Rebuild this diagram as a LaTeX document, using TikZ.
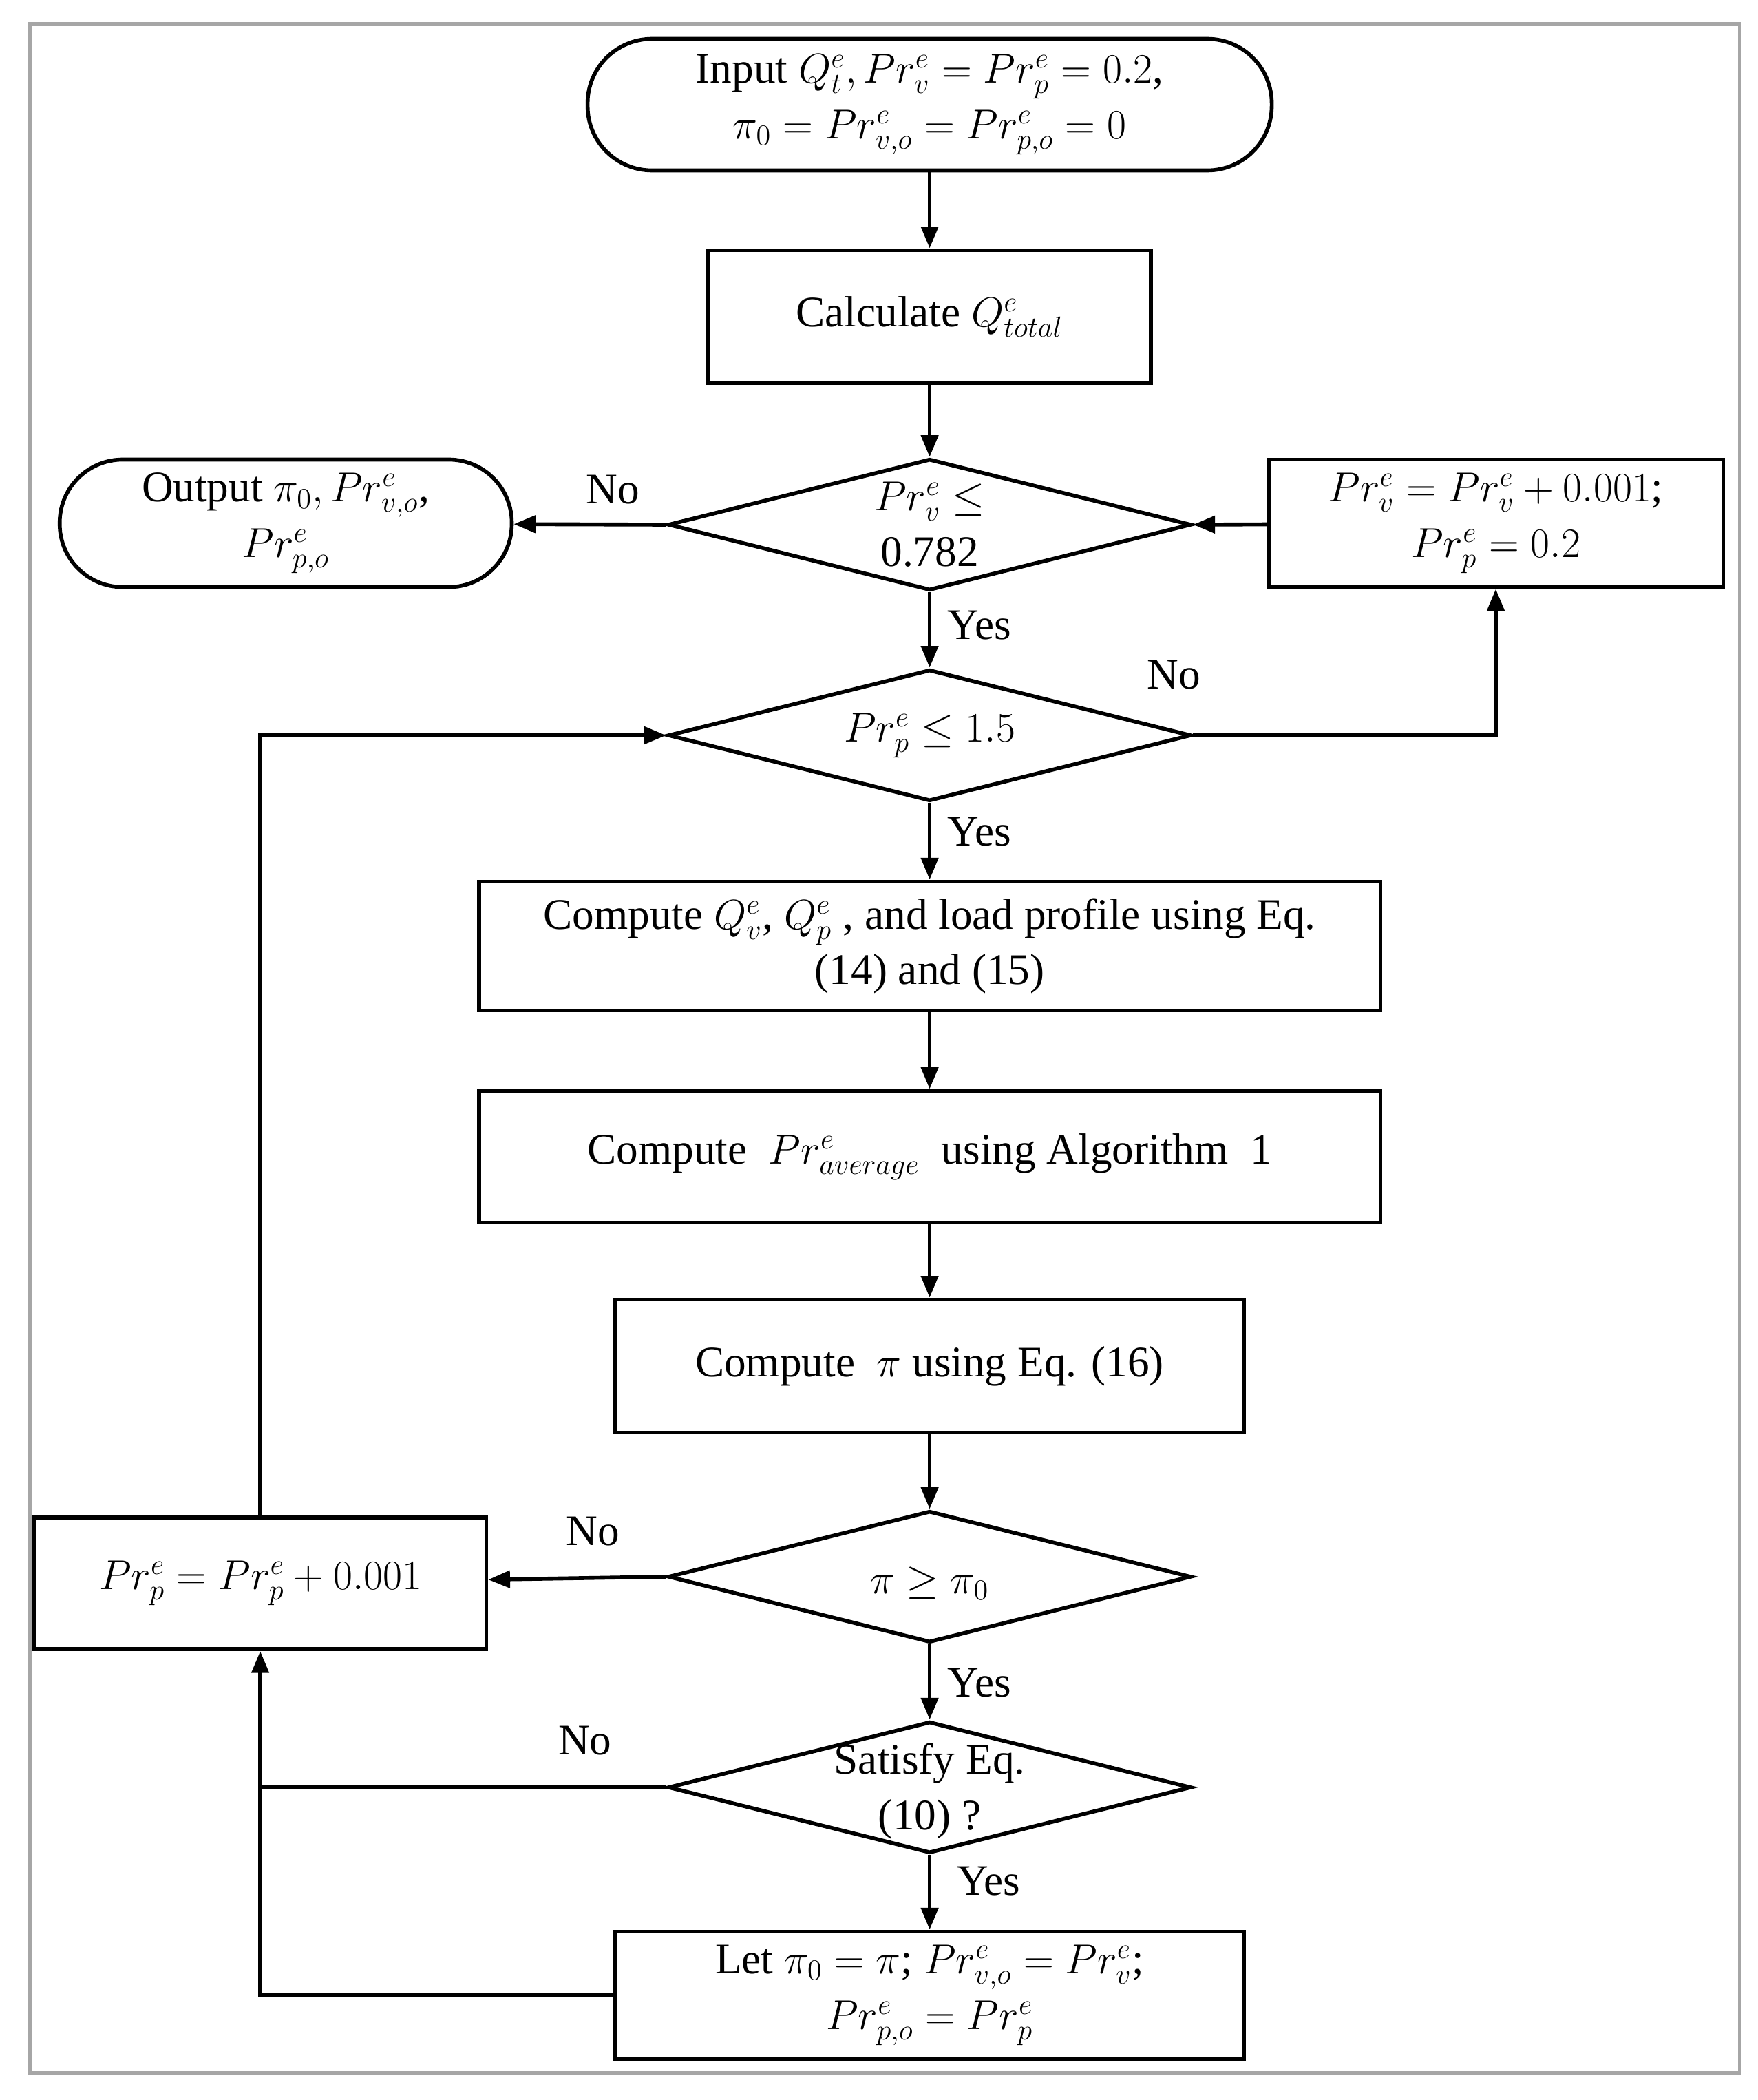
\documentclass[tikz,border=0pt]{standalone}
\usepackage{fontspec}
\setmainfont{Liberation Serif}
\usetikzlibrary{shapes.geometric,arrows.meta}
\begin{document}
\begin{tikzpicture}[x=0.01949cm,y=-0.01949cm,
 every node/.style={font=\fontsize{18}{23}\selectfont,align=center},
 box/.style={draw,line width=1.6pt,minimum width=#1*0.01949cm,inner sep=2pt},
 term/.style={draw,line width=1.6pt,rounded rectangle,ellipse},
 dia/.style={draw,line width=1.6pt,diamond,aspect=4,inner sep=0pt,minimum width=390*0.01949cm,minimum height=98*0.01949cm},
 ar/.style={line width=1.6pt,-{Triangle[length=9pt,width=7pt]}},
 ln/.style={line width=1.6pt}]
\useasboundingbox (0,0) rectangle (1310,1565);
\draw[gray!70,line width=1.5pt] (22,18) rectangle (1297,1545);
\node[draw,line width=1.6pt,rounded corners=48*0.01949cm,minimum width=510*0.01949cm,minimum height=98*0.01949cm] (in) at (693,78) {Input $Q_t^e, Pr_v^e=Pr_p^e=0.2$,\\ $\pi_0=Pr_{v,o}^e=Pr_{p,o}^e=0$};
\node[box=330,minimum height=99*0.01949cm] (calc) at (693,236) {Calculate $Q_{total}^e$};
\node[dia] (d1) at (693,391) {};
\node at (693,391) {$Pr_v^e\le$\\0.782};
\node[draw,line width=1.6pt,rounded corners=47*0.01949cm,minimum width=337*0.01949cm,minimum height=95*0.01949cm] (out) at (213,390) {Output $\pi_0, Pr_{v,o}^e$,\\ $Pr_{p,o}^e$};
\node[box=339,minimum height=95*0.01949cm] (rb) at (1115,390) {$Pr_v^e=Pr_v^e+0.001$;\\ $Pr_p^e=0.2$};
\node[dia] (d2) at (693,548) {};
\node at (693,548) {$Pr_p^e\le 1.5$};
\node[box=672,minimum height=96*0.01949cm] (c1) at (693,705) {Compute $Q_v^e$, $Q_p^e$ , and load profile using Eq.\\ (14) and (15)};
\node[box=672,minimum height=98*0.01949cm] (c2) at (693,862) {Compute\ \ $Pr_{average}^e$\ \ using Algorithm\ \ 1};
\node[box=469,minimum height=99*0.01949cm] (c3) at (693,1018) {Compute\ \ $\pi$ using Eq. (16)};
\node[dia] (d3) at (693,1175) {};
\node at (693,1180) {$\pi\ge\pi_0$};
\node[box=337,minimum height=98*0.01949cm] (lb) at (194,1180) {$Pr_p^e=Pr_p^e+0.001$};
\node[dia] (d4) at (693,1332) {};
\node at (693,1335) {Satisfy Eq.\\ (10) ?};
\node[box=469,minimum height=95*0.01949cm] (let) at (693,1487) {Let $\pi_0=\pi$; $Pr_{v,o}^e=Pr_v^e$;\\ $Pr_{p,o}^e=Pr_p^e$};
\draw[ar] (in) -- (calc);
\draw[ar] (calc) -- (d1.north);
\draw[ar] (d1.west) -- (out);
\draw[ar] (rb) -- (d1.east);
\draw[ar] (d1.south) -- (d2.north);
\draw[ar] (d2.east) -| (rb.south);
\draw[ar] (d2.south) -- (c1);
\draw[ar] (c1) -- (c2);
\draw[ar] (c2) -- (c3);
\draw[ar] (c3) -- (d3.north);
\draw[ar] (d3.west) -- (lb);
\draw[ar] (d3.south) -- (d4.north);
\draw[ar] (d4.south) -- (let);
\draw[ar] (lb.north) |- (d2.west);
\draw[ar] (d4.west) -| (lb.south);
\coordinate (j) at (194,1487);
\draw[ln] (let.west) -- (j) -- (194,1332);
\node at (457,365) {No};
\node at (730,466) {Yes};
\node at (875,503) {No};
\node at (730,620) {Yes};
\node at (442,1141) {No};
\node at (730,1254) {Yes};
\node at (436,1297) {No};
\node at (737,1402) {Yes};
\end{tikzpicture}
\end{document}
